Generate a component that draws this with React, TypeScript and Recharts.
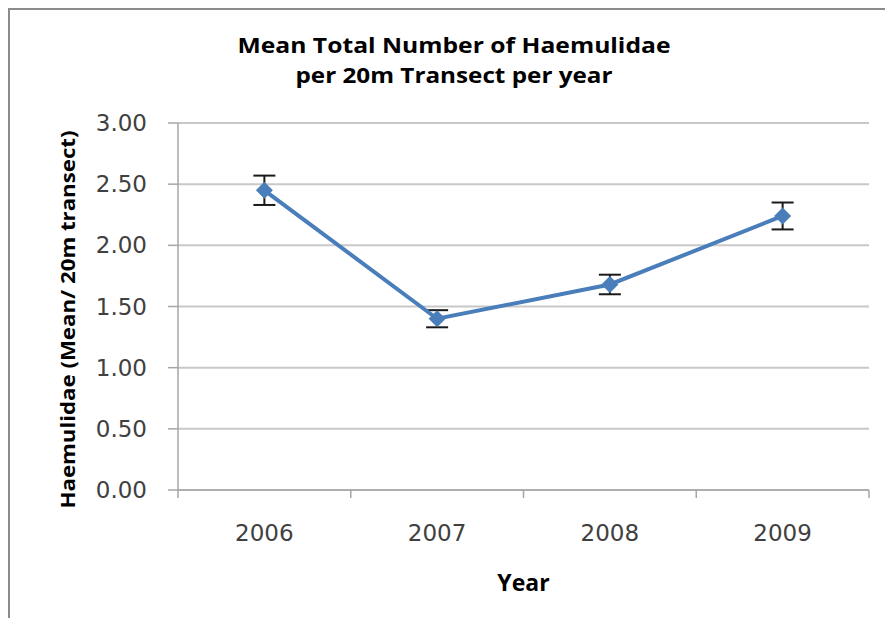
import React from 'react';
import { LineChart, Line, XAxis, YAxis, CartesianGrid, ErrorBar, Label } from 'recharts';

const years = ['2006', '2007', '2008', '2009'];
const meanCounts = [2.45, 1.4, 1.68, 2.24];
const stdErrors = [0.12, 0.07, 0.08, 0.11];
const yTicks = [0, 0.5, 1, 1.5, 2, 2.5, 3];
const yearEdges = [0, 1, 2, 3, 4];

const data = years.map((year, i) => ({ year, mean: meanCounts[i], err: stdErrors[i] }));

const axisGray = '#a6a6a6';
const textGray = '#404040';
const tickFont = { fontFamily: 'DejaVu Sans', fontSize: 23, fill: textGray };

// Excel style diamond marker
const DiamondDot = (props: any) => {
  const { cx, cy, index } = props;
  if (cx == null || cy == null) return null;
  const r = 8.5;
  return (
    <polygon
      key={`dot-${index}`}
      points={`${cx},${cy - r} ${cx + r},${cy} ${cx},${cy + r} ${cx - r},${cy}`}
      fill="#4a7ebb"
    />
  );
};

const YTitle = (props: any) => {
  const { viewBox } = props;
  const cx = viewBox.x + 75;
  const cy = viewBox.y + viewBox.height / 2 + 13;
  return (
    <text
      x={cx}
      y={cy}
      transform={`rotate(-90 ${cx} ${cy})`}
      textAnchor="middle"
      fontFamily="Open Sans"
      fontWeight="bold"
      fontSize={19}
      textLength={378}
      lengthAdjust="spacingAndGlyphs"
      fill="#000"
    >
      Haemulidae (Mean/ 20m transect)
    </text>
  );
};

const NoLabel = () => <g />;

export default function App() {
  return (
    <div style={{ position: 'absolute', left: 0, top: 0, width: 885, height: 618, background: '#fff', overflow: 'hidden' }}>
      <div
        style={{
          position: 'absolute',
          left: 8,
          top: 8,
          width: 1000,
          height: 1000,
          borderLeft: '2px solid #8c8c8c',
          borderTop: '2px solid #8c8c8c',
        }}
      />
      <svg width={885} height={120} style={{ position: 'absolute', left: 0, top: 0 }}>
        <text x={454} y={53} textAnchor="middle" fontFamily="Open Sans" fontWeight="bold" fontSize={22} textLength={433} lengthAdjust="spacingAndGlyphs" fill="#000">
          Mean Total Number of Haemulidae
        </text>
        <text x={454} y={83} textAnchor="middle" fontFamily="Open Sans" fontWeight="bold" fontSize={22} textLength={317} lengthAdjust="spacingAndGlyphs" fill="#000">
          per 20m Transect per year
        </text>
      </svg>
      <div style={{ position: 'absolute', left: 0, top: 0 }}>
        <LineChart width={885} height={618} data={data} margin={{ top: 123, right: 16, bottom: 0, left: 0 }}>
          <CartesianGrid xAxisId="year" vertical={false} stroke="#c8c8c8" strokeWidth={2} />
          {/* tick marks between the years, Excel style */}
          <XAxis
            xAxisId="divider"
            type="number"
            dataKey={(d: any) => years.indexOf(d.year)}
            domain={[0, 4]}
            allowDataOverflow
            ticks={yearEdges}
            interval={0}
            height={1}
            axisLine={{ stroke: axisGray, strokeWidth: 1.5 }}
            tickLine={{ stroke: axisGray, strokeWidth: 1.5 }}
            tickSize={8}
            tick={NoLabel}
          />
          <XAxis
            xAxisId="year"
            dataKey="year"
            scale="band"
            height={127}
            axisLine={false}
            tickLine={false}
            tickSize={8}
            tickMargin={26}
            tick={tickFont}
          >
            <Label value="Year" position="insideBottom" offset={27} style={{ fontFamily: 'Open Sans', fontWeight: 'bold', fontSize: 23, fill: '#000' }} />
          </XAxis>
          <YAxis
            width={178}
            domain={[0, 3]}
            ticks={yTicks}
            tickFormatter={(v: number) => v.toFixed(2)}
            axisLine={{ stroke: axisGray, strokeWidth: 1.5 }}
            tickLine={{ stroke: axisGray, strokeWidth: 1.5 }}
            tickSize={10}
            tickMargin={21}
            tick={tickFont}
          >
            <Label content={<YTitle />} />
          </YAxis>
          <Line
            xAxisId="year"
            dataKey="mean"
            stroke="#4a7ebb"
            strokeWidth={4}
            dot={DiamondDot}
            activeDot={false}
            isAnimationActive={false}
          >
            <ErrorBar dataKey="err" direction="y" width={11} strokeWidth={2} stroke="#1a1a1a" />
          </Line>
        </LineChart>
      </div>
    </div>
  );
}
